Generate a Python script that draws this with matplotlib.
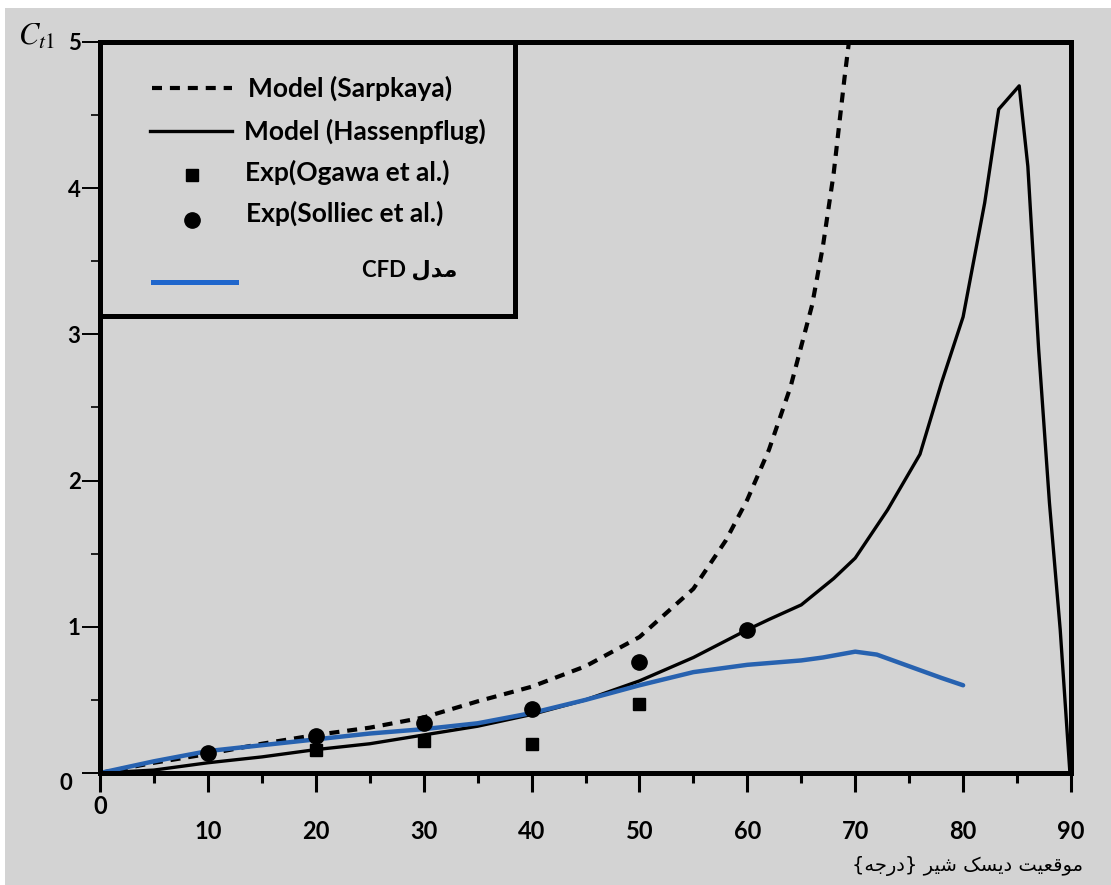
import matplotlib
matplotlib.use("Agg")
import matplotlib.pyplot as plt
import matplotlib.transforms as mtransforms
from matplotlib.patches import Rectangle

# --- data ---
sarpkaya_x = [0, 5, 10, 15, 20, 25, 30, 35, 40, 45, 50, 55, 58, 60, 62, 64, 66, 67, 68, 69, 69.5]
sarpkaya_y = [0, 0.07, 0.13, 0.2, 0.26, 0.31, 0.38, 0.49, 0.59, 0.73, 0.93, 1.26, 1.59, 1.87, 2.21, 2.64, 3.2, 3.6, 4.1, 4.75, 5.05]

hassen_x = [0, 5, 10, 15, 20, 25, 30, 35, 40, 45, 50, 55, 60, 62, 65, 68, 70, 73, 76, 78, 80, 82, 83.3, 85.2, 86, 87, 88, 89, 89.9]
hassen_y = [0, 0.02, 0.07, 0.11, 0.16, 0.2, 0.26, 0.32, 0.4, 0.5, 0.63, 0.79, 0.98, 1.05, 1.15, 1.33, 1.47, 1.8, 2.18, 2.67, 3.12, 3.9, 4.54, 4.7, 4.15, 2.9, 1.85, 0.98, 0.0]

cfd_x = [0, 5, 10, 15, 20, 25, 30, 35, 40, 45, 50, 55, 60, 65, 67, 70, 72, 75, 78, 80]
cfd_y = [0, 0.08, 0.15, 0.19, 0.23, 0.27, 0.3, 0.34, 0.41, 0.5, 0.6, 0.69, 0.74, 0.77, 0.79, 0.83, 0.81, 0.73, 0.65, 0.6]

ogawa_x = [20, 30, 40, 50]
ogawa_y = [0.16, 0.22, 0.2, 0.47]

solliec_x = [10, 20, 30, 40, 50, 60]
solliec_y = [0.14, 0.25, 0.34, 0.44, 0.76, 0.98]

x_ticks = list(range(0, 91, 10))
y_ticks = [0, 1, 2, 3, 4, 5]

labels = ["Model (Sarpkaya)", "Model (Hassenpflug)", "Exp(Ogawa et al.)", "Exp(Solliec et al.)"]
# "CFD مدل" and the Persian x label, written in visual order with presentation forms
cfd_label = "CFD " + "\uFEDD\uFEAA\uFEE3"
x_label = ("{" + "\uFEEA\uFE9F\uFEAD\uFEA9" + "} "
           + "\uFEAE\uFEF4\uFEB7" + " "
           + "\uFB8F\uFEB4\uFEF3\uFEA9" + " "
           + "\uFE96\uFEF4\uFECC\uFED7\uFEEE\uFEE3")

BG = "#d3d3d3"
BLUE = "#2762b0"

plt.rcParams["font.family"] = ["Lato", "DejaVu Sans"]
plt.rcParams["mathtext.fontset"] = "stix"

fig = plt.figure(figsize=(11.11, 8.85), dpi=100, facecolor="white")
fig.patches.append(Rectangle((5 / 1111, 0), 1, 877 / 885, transform=fig.transFigure,
                             facecolor=BG, edgecolor="none", zorder=-10))
ax = fig.add_axes([100 / 1111, 112 / 885, 971 / 1111, 731 / 885])
ax.set_facecolor(BG)

ax.plot(sarpkaya_x, sarpkaya_y, color="black", lw=3, linestyle=(0, (2.4, 1.9)))
ax.plot(hassen_x, hassen_y, color="black", lw=2.4)
ax.plot(cfd_x, cfd_y, color=BLUE, lw=3.2, solid_capstyle="round")
ax.plot(ogawa_x, ogawa_y, "s", color="black", ms=9, zorder=4)
ax.plot(solliec_x, solliec_y, "o", color="black", ms=11, zorder=4)

ax.set_xlim(0, 90)
ax.set_ylim(0, 5)
ax.set_xticks(x_ticks)
ax.set_xticks(range(5, 90, 10), minor=True)
ax.set_yticks(y_ticks)
ax.set_yticks([0.5, 1.5, 2.5, 3.5, 4.5], minor=True)
ax.tick_params(axis="x", which="major", direction="out", length=14, width=2.2, pad=20, labelsize=17)
ax.tick_params(axis="x", which="minor", direction="out", length=7, width=2.2)
ax.tick_params(axis="y", which="major", direction="out", length=13, width=1.4, pad=1, labelsize=16)
ax.tick_params(axis="y", which="minor", direction="out", length=6.5, width=1.2)
for lab in ax.get_xticklabels() + ax.get_yticklabels():
    lab.set_fontweight("bold")

# the "0" labels sit apart from the others
xl0 = ax.get_xticklabels()[0]
xl0.set_transform(xl0.get_transform() + mtransforms.ScaledTranslation(0, 0.25, fig.dpi_scale_trans))
yl0 = ax.get_yticklabels()[0]
yl0.set_transform(yl0.get_transform() + mtransforms.ScaledTranslation(-0.08, -0.09, fig.dpi_scale_trans))

for sp in ax.spines.values():
    sp.set_linewidth(3.6)

fig.text(1083 / 1111, (885 - 866) / 885, x_label, ha="right", va="center",
         fontsize=14, family="DejaVu Sans")
fig.text(18 / 1111, (885 - 36) / 885, r"$C_{t1}$", ha="left", va="center", fontsize=22)

# legend box drawn by hand
def fx(px):
    return (px - 100) / 971

def fy(py):
    return (773 - py) / 731

ax.add_patch(Rectangle((0, fy(316)), fx(515), 1 - fy(316), transform=ax.transAxes,
                       facecolor=BG, edgecolor="black", lw=3.6, zorder=5, clip_on=False))
ax.plot([fx(152), fx(232)], [fy(88), fy(88)], transform=ax.transAxes, color="black",
        lw=3, linestyle=(0, (2.4, 1.9)), zorder=6)
ax.plot([fx(150), fx(232)], [fy(131), fy(131)], transform=ax.transAxes, color="black", lw=2.4, zorder=6)
ax.plot([fx(192)], [fy(175)], "s", transform=ax.transAxes, color="black", ms=9, zorder=6)
ax.plot([fx(192)], [fy(220)], "o", transform=ax.transAxes, color="black", ms=11, zorder=6)
ax.plot([fx(153), fx(236)], [fy(282), fy(282)], transform=ax.transAxes, color="#1f66cc", lw=3.6, zorder=6)

for lab, px, py in zip(labels, [248, 244, 245, 246], [88, 131, 172, 213]):
    ax.text(fx(px), fy(py), lab, transform=ax.transAxes, ha="left", va="center",
            fontsize=19, fontweight="bold", zorder=7)
ax.text(fx(457), fy(270), cfd_label, transform=ax.transAxes, ha="right", va="center",
        fontsize=16, fontweight="bold", zorder=7)

fig.savefig("out.png", dpi=100, facecolor=fig.get_facecolor())
